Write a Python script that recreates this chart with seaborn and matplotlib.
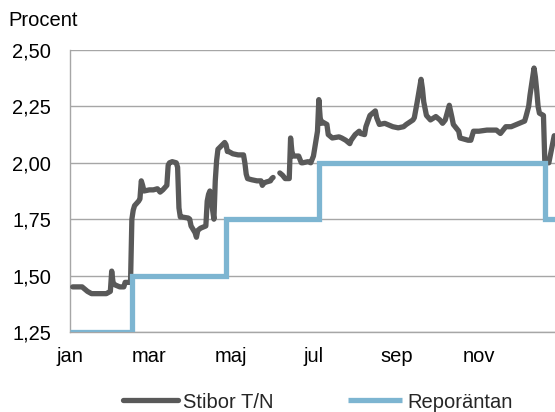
import numpy as np
import pandas as pd
import matplotlib
matplotlib.use("Agg")
import matplotlib.pyplot as plt
from matplotlib.ticker import FixedLocator, FuncFormatter
import seaborn as sns

# ---------------- data ----------------
stibor_dates = [
    "2011-01-03", "2011-01-10", "2011-01-14", "2011-01-17", "2011-01-24", "2011-01-28",
    "2011-01-31", "2011-02-01", "2011-02-02", "2011-02-03", "2011-02-07", "2011-02-10",
    "2011-02-11", "2011-02-15", "2011-02-16", "2011-02-17", "2011-02-18", "2011-02-21",
    "2011-02-22", "2011-02-23", "2011-02-24", "2011-02-25", "2011-03-01", "2011-03-04",
    "2011-03-07", "2011-03-09", "2011-03-11", "2011-03-14", "2011-03-15", "2011-03-16",
    "2011-03-18", "2011-03-21", "2011-03-22", "2011-03-23", "2011-03-24", "2011-03-25",
    "2011-03-30", "2011-03-31", "2011-04-01", "2011-04-04", "2011-04-05", "2011-04-06",
    "2011-04-08", "2011-04-12", "2011-04-13", "2011-04-14", "2011-04-15", "2011-04-18",
    "2011-04-19", "2011-04-20", "2011-04-21", "2011-04-26", "2011-04-27", "2011-04-28",
    "2011-04-29", "2011-05-02", "2011-05-06", "2011-05-10", "2011-05-11", "2011-05-12",
    "2011-05-13", "2011-05-16", "2011-05-20", "2011-05-23", "2011-05-24", "2011-05-25",
    "2011-05-27", "2011-05-30", "2011-05-31", "2011-06-01", "2011-06-02", "2011-06-03",
    "2011-06-06", "2011-06-08", "2011-06-10", "2011-06-13", "2011-06-14", "2011-06-15",
    "2011-06-16", "2011-06-20", "2011-06-22", "2011-06-23", "2011-06-27", "2011-06-29",
    "2011-07-01", "2011-07-04", "2011-07-05", "2011-07-06", "2011-07-07", "2011-07-08",
    "2011-07-11", "2011-07-12", "2011-07-15", "2011-07-20", "2011-07-22", "2011-07-25",
    "2011-07-28", "2011-07-29", "2011-08-01", "2011-08-04", "2011-08-05", "2011-08-08",
    "2011-08-09", "2011-08-12", "2011-08-16", "2011-08-17", "2011-08-19", "2011-08-23",
    "2011-08-29", "2011-09-02", "2011-09-06", "2011-09-08", "2011-09-13", "2011-09-14",
    "2011-09-16", "2011-09-19", "2011-09-20", "2011-09-21", "2011-09-23", "2011-09-26",
    "2011-09-30", "2011-10-03", "2011-10-05", "2011-10-07", "2011-10-10", "2011-10-12",
    "2011-10-13", "2011-10-17", "2011-10-18", "2011-10-24", "2011-10-26", "2011-10-28",
    "2011-11-01", "2011-11-07", "2011-11-14", "2011-11-17", "2011-11-21", "2011-11-25",
    "2011-12-01", "2011-12-05", "2011-12-06", "2011-12-08", "2011-12-09", "2011-12-12",
    "2011-12-13", "2011-12-14", "2011-12-15", "2011-12-16", "2011-12-19", "2011-12-20",
    "2011-12-21", "2011-12-23", "2011-12-27",
]
stibor_values = [
    1.45, 1.45, 1.43, 1.42, 1.42, 1.42,
    1.43, 1.52, 1.47, 1.46, 1.45, 1.45,
    1.47, 1.47, 1.75, 1.79, 1.81, 1.83,
    1.84, 1.92, 1.90, 1.875, 1.88, 1.88,
    1.885, 1.87, 1.88, 1.90, 1.99, 2.00,
    2.005, 2.00, 1.98, 1.80, 1.76, 1.76,
    1.755, 1.75, 1.72, 1.69, 1.67, 1.70,
    1.71, 1.72, 1.83, 1.86, 1.875, 1.75,
    1.92, 2.01, 2.06, 2.09, 2.08, 2.05,
    2.05, 2.04, 2.035, 2.035, 2.00, 1.95,
    1.93, 1.925, 1.92, 1.92, 1.90, 1.91,
    1.915, 1.92, 1.93, 1.935, np.nan, np.nan,
    1.955, 1.945, 1.93, 1.93, 2.11, 2.05,
    2.03, 2.03, 2.00, 2.00, 2.005, 2.00,
    2.03, 2.14, 2.28, 2.20, 2.175, 2.18,
    2.17, 2.125, 2.11, 2.115, 2.11, 2.10,
    2.085, 2.10, 2.125, 2.14, 2.13, 2.125,
    2.16, 2.21, 2.23, 2.20, 2.17, 2.175,
    2.16, 2.155, 2.16, 2.17, 2.19, 2.20,
    2.265, 2.37, 2.33, 2.27, 2.21, 2.19,
    2.205, 2.19, 2.175, 2.19, 2.255, 2.20,
    2.17, 2.14, 2.11, 2.10, 2.10, 2.14,
    2.14, 2.145, 2.145, 2.13, 2.16, 2.16,
    2.175, 2.185, 2.205, 2.25, 2.30, 2.42,
    2.38, 2.32, 2.25, 2.22, 2.21, 2.005,
    2.00, 2.00, 2.12,
]

repo_dates = ["2011-01-01", "2011-02-16", "2011-04-27", "2011-07-05", "2011-12-20", "2011-12-31"]
repo_values = [1.25, 1.50, 1.75, 2.00, 1.75, 1.75]

month_ticks = ["2011-01-01", "2011-03-01", "2011-05-01", "2011-07-01", "2011-09-01", "2011-11-01"]
month_labels = ["jan", "mar", "maj", "jul", "sep", "nov"]
y_ticks = [1.25, 1.50, 1.75, 2.00, 2.25, 2.50]

series_names = ["Stibor T/N", "Reporäntan"]
series_colors = ["#595959", "#7DB5D1"]

# ---------------- build frames ----------------
stibor = pd.DataFrame({"date": pd.to_datetime(stibor_dates), "value": stibor_values})
stibor["segment"] = stibor["value"].isna().cumsum()
stibor = stibor.dropna()
repo = pd.DataFrame({"date": pd.to_datetime(repo_dates), "value": repo_values})

# ---------------- figure ----------------
sns.set_theme(style="white")
plt.rcParams["font.family"] = ["Liberation Sans", "DejaVu Sans"]

FS = 14.5
W, H = 555, 412
fig = plt.figure(figsize=(W / 100, H / 100), dpi=100)
ax = fig.add_axes([70 / W, 80 / H, 485 / W, 282 / H])

grid_col = "#A6A6A6"
for i, (seg, g) in enumerate(stibor.groupby("segment")):
    sns.lineplot(data=g, x="date", y="value", ax=ax, color=series_colors[0],
                 linewidth=3.8, label=series_names[0] if i == 0 else None,
                 estimator=None, sort=True, legend=False, zorder=3,
                 solid_joinstyle="round", solid_capstyle="round")
sns.lineplot(data=repo, x="date", y="value", ax=ax, color=series_colors[1],
             linewidth=3.8, label=series_names[1], estimator=None, legend=False,
             drawstyle="steps-post", zorder=4,
             solid_joinstyle="miter", solid_capstyle="butt")

ax.set_xlim(pd.Timestamp("2011-01-01"), pd.Timestamp("2011-12-27 14:00"))
ax.set_ylim(1.25, 2.50)
ax.yaxis.set_major_locator(FixedLocator(y_ticks))
ax.yaxis.set_major_formatter(FuncFormatter(lambda v, p: f"{v:.2f}".replace(".", ",")))
ax.set_xticks(pd.to_datetime(month_ticks))
ax.set_xticklabels(month_labels)

ax.grid(axis="y", color=grid_col, linewidth=1.0)
ax.grid(axis="x", visible=False)
ax.set_axisbelow(True)
for s in ["top", "right"]:
    ax.spines[s].set_visible(False)
ax.spines["left"].set_color(grid_col)
ax.spines["bottom"].set_color(grid_col)
ax.spines["left"].set_linewidth(1.0)
ax.spines["bottom"].set_linewidth(1.0)

ax.tick_params(axis="y", length=0, pad=13.5, labelsize=FS, labelcolor="#000000")
ax.tick_params(axis="x", length=0, pad=11, labelsize=FS, labelcolor="#000000")
ax.set_xlabel("")
ax.set_ylabel("")

fig.text(8 / W, 1 - 20 / H, "Procent", fontsize=FS, ha="left", va="center", color="#000000")

handles, labels = ax.get_legend_handles_labels()
fig.legend(handles, labels, loc="center", bbox_to_anchor=(318 / W, 1 - 402 / H),
           ncol=2, frameon=False, fontsize=FS, handlelength=2.7,
           handletextpad=0.25, columnspacing=3.7)

fig.savefig("out.png", dpi=100)
